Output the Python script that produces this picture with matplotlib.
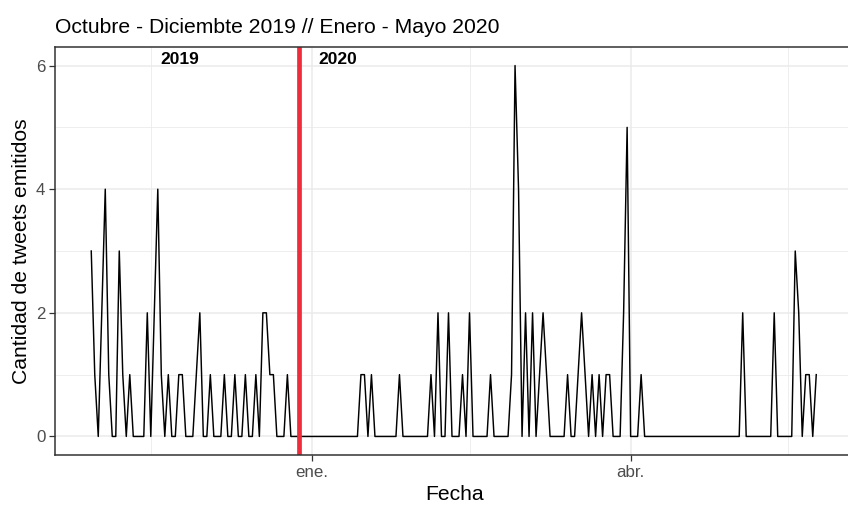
import matplotlib
matplotlib.use("Agg")
import matplotlib.pyplot as plt
import pandas as pd

plt.rcParams['font.family'] = ['Liberation Sans', 'DejaVu Sans']

# tweets por dia (30 oct 2019 - 24 may 2020)
oct_2019 = [3, 1]
nov_2019 = [0, 2, 4, 1, 0, 0, 3, 1, 0, 1, 0, 0, 0, 0, 2, 0, 2, 4, 1, 0,
            1, 0, 0, 1, 1, 0, 0, 0, 1, 2]
dic_2019 = [0, 0, 1, 0, 0, 0, 1, 0, 0, 1, 0, 0, 1, 0, 0, 1, 0, 2, 2, 1,
            1, 0, 0, 0, 1, 0, 0, 0, 0, 0, 0]
ene_2020 = [0, 0, 0, 0, 0, 0, 0, 0, 0, 0, 0, 0, 0, 0, 1, 1, 0, 1, 0, 0,
            0, 0, 0, 0, 0, 1, 0, 0, 0, 0, 0]
feb_2020 = [0, 0, 0, 1, 0, 2, 0, 0, 2, 0, 0, 0, 1, 0, 2, 0, 0, 0, 0, 0,
            1, 0, 0, 0, 0, 0, 1, 6, 4]
mar_2020 = [0, 2, 0, 2, 0, 1, 2, 1, 0, 0, 0, 0, 0, 1, 0, 0, 1, 2, 1, 0,
            1, 0, 1, 0, 1, 1, 0, 0, 0, 2, 5]
abr_2020 = [0, 0, 0, 1, 0, 0, 0, 0, 0, 0, 0, 0, 0, 0, 0, 0, 0, 0, 0, 0,
            0, 0, 0, 0, 0, 0, 0, 0, 0, 0]
may_2020 = [0, 0, 2, 0, 0, 0, 0, 0, 0, 0, 0, 2, 0, 0, 0, 0, 0, 3, 2, 0,
            1, 1, 0, 1]

conteo = oct_2019 + nov_2019 + dic_2019 + ene_2020 + feb_2020 + mar_2020 + abr_2020 + may_2020
fechas = pd.date_range("2019-10-30", periods=len(conteo), freq="D")

corte = pd.Timestamp("2019-12-28 08:00")
etiquetas_anio = ["2019", "2020"]
pos_anio = [pd.Timestamp("2019-11-24 07:00"), pd.Timestamp("2020-01-08 10:00")]

ticks_x = [pd.Timestamp("2020-01-01"), pd.Timestamp("2020-04-01")]
labels_x = ["ene.", "abr."]
minor_x = [pd.Timestamp("2019-11-16"), pd.Timestamp("2020-02-15"), pd.Timestamp("2020-05-16")]

# figura
fig = plt.figure(figsize=(8.48, 5.05), dpi=100)
W, H = 848, 505
ax = fig.add_axes([55 / W, 1 - 455 / H, (852.5 - 55) / W, (455 - 47) / H])

# grilla estilo theme_bw
ax.set_axisbelow(True)
ax.set_yticks([0, 2, 4, 6])
ax.set_yticks([1, 3, 5], minor=True)
ax.set_xticks(ticks_x)
ax.set_xticklabels(labels_x)
ax.set_xticks(minor_x, minor=True)
ax.grid(which="major", color="#EBEBEB", lw=1.1)
ax.grid(which="minor", color="#EBEBEB", lw=0.6)
ax.tick_params(which="minor", length=0)
ax.tick_params(which="major", length=4, width=0.9, color="#333333",
               labelcolor="#4D4D4D", labelsize=12.2, pad=3)
for s in ax.spines.values():
    s.set_color("#333333")
    s.set_linewidth(1.1)

# linea de tweets
ax.plot(fechas, conteo, color="black", lw=1.05)

# corte de anio
ax.axvline(corte, color="#EE2C3C", lw=3.4)
for txt, pos in zip(etiquetas_anio, pos_anio):
    ax.text(pos, 6.1, txt, ha="center", va="center", fontsize=12.5, fontweight="bold")

ax.set_xlim(pd.Timestamp("2020-01-01") - pd.Timedelta(days=73.35),
            pd.Timestamp("2020-01-01") + pd.Timedelta(days=154.35))
ax.set_ylim(-0.3, 6.3)

fig.text(55 / W, 1 - 33 / H, "Octubre - Diciembte 2019 // Enero - Mayo 2020",
         fontsize=15.2, ha="left", va="baseline")
fig.text(455 / W, 1 - 500 / H, "Fecha", fontsize=15.2, ha="center", va="baseline")
fig.text(22 / W, 1 - 251 / H, "Cantidad de tweets emitidos", fontsize=15.2,
         rotation=90, ha="center", va="center")

fig.savefig("out.png", dpi=100)
